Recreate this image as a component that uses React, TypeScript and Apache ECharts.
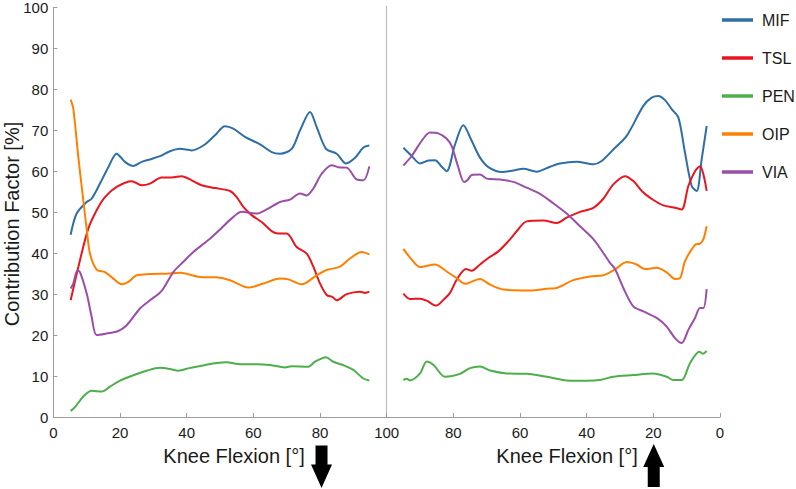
import React, { useEffect, useRef } from "react";
import * as echarts from "echarts";

const seriesNames = ["MIF", "TSL", "PEN", "OIP", "VIA"];
const seriesColors = ["#2e6ea6", "#e8161e", "#4daf4a", "#ff8000", "#9a4ea8"];
const yTickValues = [0, 10, 20, 30, 40, 50, 60, 70, 80, 90, 100];
const xTickValues = [0, 20, 40, 60, 80, 100];
const xAxisTitle = "Knee Flexion [°]";
const yAxisTitle = "Contribution Factor [%]";
const leftArrowAt = 80;
const rightArrowAt = 20;

// Left panel (flexion increasing)
const leftMIF = [[5.2,44.5],[7,49.7],[10,52.5],[11.5,53.3],[14,57],[16.5,61],[19,64.3],[21.5,62.3],[24,61.3],[26.5,62.3],[29,62.9],[32,63.7],[35,64.9],[38,65.5],[41.5,65.1],[45,66.3],[48.5,68.8],[51.5,71],[54,70.4],[57.5,68.4],[62,66.6],[65.5,64.7],[68,64.3],[71.5,65.5],[74,70],[77,74.5],[79,70.8],[81.8,65.5],[85,64.3],[87.8,61.9],[90.5,63.3],[93,65.8],[94.8,66.3]];
const leftTSL = [[5.2,28.5],[8,38.3],[10.5,46],[13,50.5],[15.5,53.7],[19,56.2],[23.5,57.6],[26.5,56.6],[29,57],[32.5,58.5],[35.5,58.5],[38.5,58.8],[41.5,57.8],[44.5,56.6],[48.5,55.9],[53,55.2],[55,53.7],[57,51.3],[59.5,49.3],[62.5,47.6],[65.5,45.4],[67.5,44.8],[70,44.8],[73,41.5],[76,39.9],[78,36.7],[80,32.6],[82,29.8],[83.8,29.3],[85,28.5],[88,30],[92,30.6],[93.5,30.3],[94.8,30.6]];
const leftPEN = [[5.2,1.5],[6.5,2.4],[9,5],[11.5,6.4],[14.5,6.2],[17,7.4],[20,8.9],[24,10.2],[28,11.3],[32,12],[35,11.7],[37.5,11.3],[41,12],[45,12.6],[49,13.2],[52,13.4],[56,12.9],[61,12.9],[65,12.7],[69.5,12.1],[71.5,12.4],[76.5,12.3],[78.5,13.5],[81.8,14.6],[84,13.5],[87.5,12.5],[90,11.5],[93,9.4],[94.8,8.9]];
const leftOIP = [[5.2,77.5],[6,75.3],[7.5,63.5],[9,52.9],[10,46],[11,39.9],[13,36],[15.5,35.4],[18,33.8],[20.5,32.4],[22.5,33],[25,34.6],[29,34.9],[34,35],[38,35.2],[44,34.2],[49,34.1],[53,33.4],[58.5,31.6],[63,32.6],[68,33.8],[70.5,33.6],[74.5,32.4],[79,34.6],[82,35.9],[86,36.7],[89,38.7],[92.5,40.3],[94.8,39.7]];
const leftVIA = [[5.2,31.4],[6,32.6],[7.2,35.7],[8,35.4],[10,30.2],[11.5,24.5],[13,20],[16,20.4],[19.5,21],[22,22.4],[26,26.5],[29,28.5],[32.5,30.8],[36,35.4],[39,37.9],[42,40.3],[46.5,43.2],[50,45.8],[53.5,48.5],[56.5,50.1],[61,49.7],[64,50.7],[68,52.5],[71,53.1],[74,54.6],[76,54.1],[78,55.8],[80.5,59.4],[83.5,61.5],[85.5,61],[88,60.9],[91,58],[93,57.8],[94.8,61.2]];

// Right panel (flexion decreasing)
const rightMIF = [[95,65.5],[92.5,63.5],[90,61.7],[87.5,62.4],[85.5,62.5],[83.5,60.9],[82,59.8],[79.5,66.3],[77,71],[74.5,67.2],[72,63.1],[69.5,60.8],[65.5,59.6],[62,60],[59,60.4],[55,59.7],[51,60.9],[48,61.7],[43,62.1],[38,61.5],[35.5,62.3],[32,65.1],[28,68.4],[23,75.7],[20.5,77.7],[18.5,78.1],[16.5,77.1],[14.5,74.9],[12.5,72.9],[10.5,64.3],[8.5,56.2],[7,55],[5.5,62.7],[4,70.8]];
const rightTSL = [[95,30],[93,28.7],[90,28.8],[88,28.3],[85.2,27.1],[83,28.5],[81,30.2],[79,33.4],[76.2,36],[74.5,35.6],[72,37.1],[69.5,38.7],[66.5,40.3],[63,43.2],[61,45.2],[58,47.6],[53,47.8],[49,47.2],[46,48.5],[42,49.9],[38,50.9],[35,53.1],[32,56.6],[28.5,58.6],[26,57.4],[23,54.6],[20,52.8],[17,51.5],[13.5,50.9],[11.5,50.5],[9.5,56.2],[7.5,59.8],[6,61],[4,55]];
const rightPEN = [[95,9],[94,9.3],[93,8.9],[90,10.6],[88,13.5],[86,12.7],[82.5,9.8],[78,10.5],[75,11.9],[72,12.3],[69,11.3],[64,10.6],[58,10.5],[52,9.8],[46,8.9],[40,8.8],[36,9],[32,9.8],[26,10.2],[20,10.6],[16,9.8],[14,9],[11.5,9],[9,13.1],[6.2,15.9],[5.2,15.4],[4,16.1]];
const rightOIP = [[95,40.9],[92.5,38.3],[90,36.5],[85.5,37.1],[82,35.4],[79,33.8],[76.5,32.4],[72,33.6],[69,32.2],[65,31],[57,30.8],[52,31.2],[49,31.4],[44,33.3],[39,34.2],[35,34.5],[31.5,35.9],[28,37.7],[25,37.1],[22.5,36],[19,36.3],[16,35.2],[13.5,33.6],[12,33.8],[10.5,37.9],[7.5,41.9],[6,42.2],[5,43.2],[4,46.4]];
const rightVIA = [[95,61.2],[92.5,63.5],[89.5,67.2],[87,69.2],[84.5,69],[82,67.7],[80.5,65.9],[78.5,60.7],[76.8,57.2],[75.8,57.6],[74.5,58.9],[72,59],[70,58],[66,57.8],[62,57.2],[58,55.8],[54,54.3],[50,52],[46,49.5],[42,46.4],[38,43.3],[35,39.9],[33,37.5],[31.5,36],[29,31.4],[26,26.9],[23,25.7],[19,24.1],[16,22],[13.5,19.2],[11.5,18],[9.5,21.2],[7.5,24.1],[6,26.5],[5,26.5],[4,31.1]];

const leftData = [leftMIF, leftTSL, leftPEN, leftOIP, leftVIA];
const rightData = [rightMIF, rightTSL, rightPEN, rightOIP, rightVIA];

const FONT = "'Liberation Sans', Arial, Helvetica, sans-serif";
const TEXT = "#1a1a1a";
const AXIS = "#9c9c9c";

export default function App() {
  const ref = useRef<HTMLDivElement>(null);
  useEffect(() => {
    if (!ref.current) return;
    const chart = echarts.init(ref.current, null, { renderer: "svg" });
    const xAxisBase = (idx: number) => ({
      type: "value",
      gridIndex: idx,
      position: "bottom",
      min: xTickValues[0],
      max: xTickValues[xTickValues.length - 1],
      interval: xTickValues[1] - xTickValues[0],
      inverse: idx === 1,
      axisLine: { show: true, onZero: false, lineStyle: { color: AXIS, width: 1 } },
      axisTick: { show: true, inside: true, length: 4, lineStyle: { color: AXIS } },
      axisLabel: {
        show: true,
        margin: 8,
        fontSize: 15,
        color: TEXT,
        fontFamily: FONT,
        showMinLabel: true,
        showMaxLabel: true,
        hideOverlap: false,
        formatter: (v: number) => (idx === 0 && v === 100 ? "" : String(v)),
      },
      splitLine: { show: false },
    });
    const series: any[] = [];
    seriesNames.forEach((name, i) => {
      series.push({
        name,
        type: "line",
        xAxisIndex: 0,
        yAxisIndex: 0,
        data: leftData[i],
        showSymbol: false,
        symbol: "none",
        smooth: 0.3,
        lineStyle: { width: 2, color: seriesColors[i] },
        itemStyle: { color: seriesColors[i] },
      });
      series.push({
        name,
        type: "line",
        xAxisIndex: 1,
        yAxisIndex: 1,
        data: rightData[i],
        showSymbol: false,
        symbol: "none",
        smooth: 0.3,
        lineStyle: { width: 2, color: seriesColors[i] },
        itemStyle: { color: seriesColors[i] },
      });
    });
    chart.setOption({
      animation: false,
      backgroundColor: "#ffffff",
      textStyle: { fontFamily: FONT },
      grid: [
        { left: 53.3, top: 6, width: 333.4, height: 411, containLabel: false },
        { left: 386.7, top: 6, width: 333.3, height: 411, containLabel: false },
      ],
      legend: {
        orient: "vertical",
        left: 722,
        top: 10,
        padding: 0,
        icon: "rect",
        itemWidth: 31,
        itemHeight: 3.5,
        itemGap: 18,
        selectedMode: false,
        data: seriesNames,
        textStyle: { fontSize: 16, color: TEXT, fontFamily: FONT, lineHeight: 20, padding: [0, 0, 0, 4] },
      },
      xAxis: [xAxisBase(0), xAxisBase(1)],
      yAxis: [
        {
          type: "value",
          gridIndex: 0,
          position: "left",
          min: yTickValues[0],
          max: yTickValues[yTickValues.length - 1],
          interval: yTickValues[1] - yTickValues[0],
          axisLine: { show: true, onZero: false, lineStyle: { color: AXIS, width: 1 } },
          axisTick: { show: true, inside: true, length: 4, lineStyle: { color: AXIS } },
          axisLabel: { show: true, margin: 5, fontSize: 15, color: TEXT, fontFamily: FONT },
          splitLine: { show: false },
        },
        {
          type: "value",
          gridIndex: 1,
          position: "left",
          min: yTickValues[0],
          max: yTickValues[yTickValues.length - 1],
          interval: yTickValues[1] - yTickValues[0],
          axisLine: { show: true, onZero: false, lineStyle: { color: "#bdbdbd", width: 1.2 } },
          axisTick: { show: false },
          axisLabel: { show: false },
          splitLine: { show: false },
        },
      ],
      series,
    });

    const pl = chart.convertToPixel({ xAxisIndex: 0 }, leftArrowAt) as number;
    const pr = chart.convertToPixel({ xAxisIndex: 1 }, rightArrowAt) as number;
    const cl = pl + 1.5;
    const cr = pr + 0.4;
    chart.setOption({
      graphic: [
        {
          type: "text",
          x: 234,
          y: 456,
          style: { text: xAxisTitle, fontSize: 20, fontFamily: FONT, fill: TEXT, align: "center", verticalAlign: "middle" },
        },
        {
          type: "text",
          x: 567,
          y: 456,
          style: { text: xAxisTitle, fontSize: 20, fontFamily: FONT, fill: TEXT, align: "center", verticalAlign: "middle" },
        },
        {
          type: "text",
          x: 12,
          y: 224,
          rotation: Math.PI / 2,
          style: { text: yAxisTitle, fontSize: 20, fontFamily: FONT, fill: TEXT, align: "center", verticalAlign: "middle" },
        },
        {
          type: "polygon",
          shape: {
            points: [
              [cl - 6, 445.5], [cl + 6, 445.5], [cl + 6, 464.5], [cl + 10.5, 464.5],
              [cl, 488], [cl - 10.5, 464.5], [cl - 6, 464.5],
            ],
          },
          style: { fill: "#000" },
        },
        {
          type: "polygon",
          shape: {
            points: [
              [cr, 444], [cr + 10.5, 467], [cr + 6, 467], [cr + 6, 487],
              [cr - 6, 487], [cr - 6, 467], [cr - 10.5, 467],
            ],
          },
          style: { fill: "#000" },
        },
      ],
    });
    return () => chart.dispose();
  }, []);
  return (
    <div
      ref={ref}
      style={{ position: "fixed", left: 0, top: 0, width: 796, height: 489, background: "#fff" }}
    />
  );
}
